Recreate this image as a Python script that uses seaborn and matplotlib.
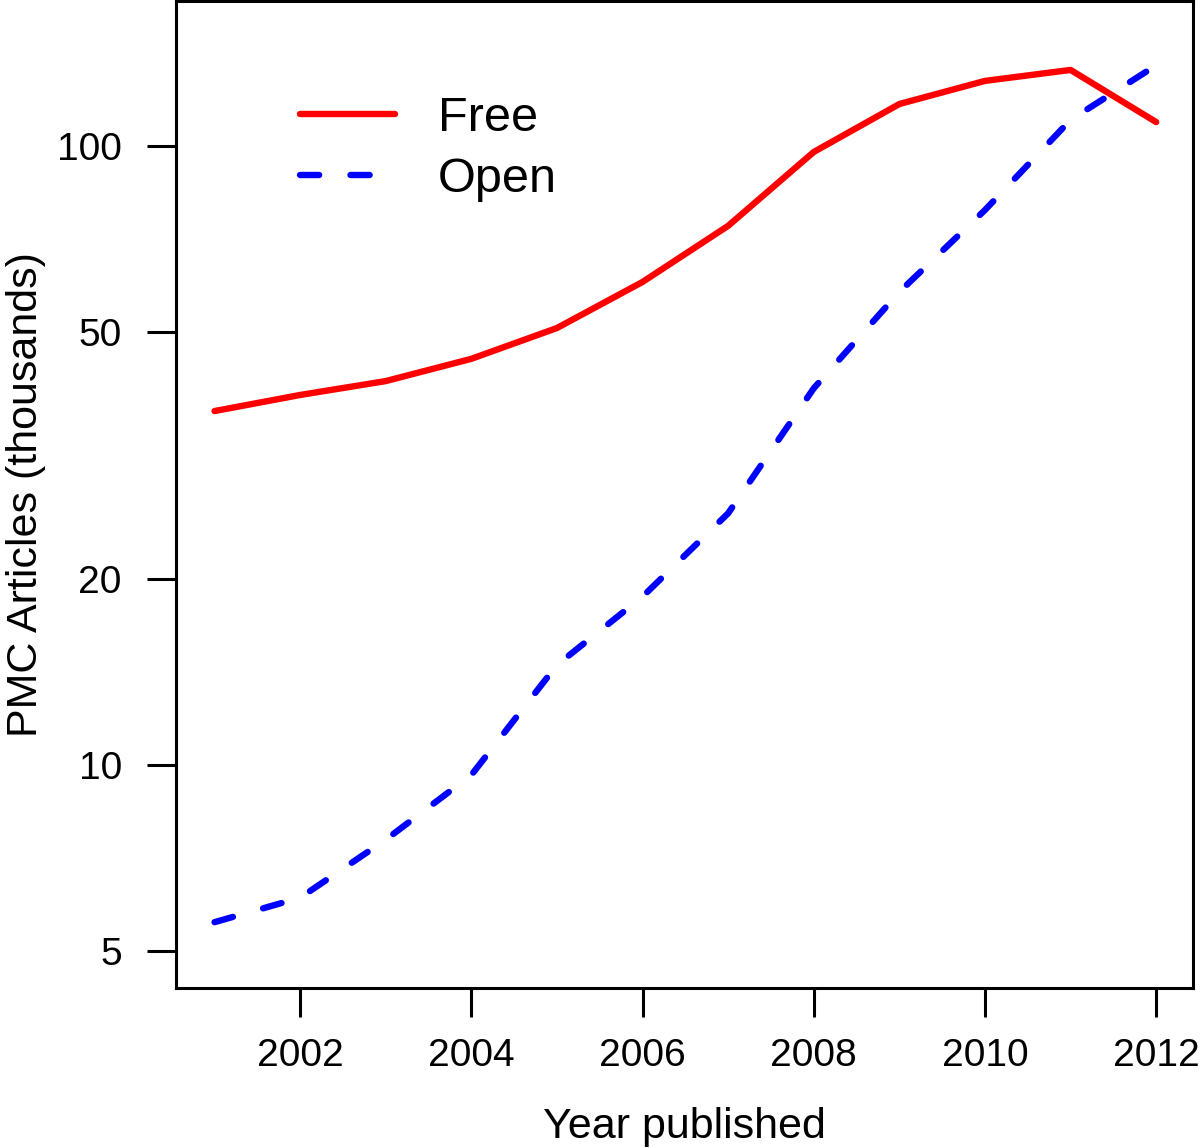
import matplotlib
matplotlib.use("Agg")
import matplotlib.pyplot as plt
import matplotlib.ticker as mticker
import seaborn as sns
import pandas as pd

# data (thousands of PMC articles)
years = [2001, 2002, 2003, 2004, 2005, 2006, 2007, 2008, 2009, 2010, 2011, 2012]
free = [37.3, 39.6, 41.7, 45.3, 50.8, 60.3, 74.3, 97.8, 116.9, 127.4, 132.7, 109.3]
open_ = [5.57, 6.10, 7.57, 9.63, 14.5, 18.7, 25.5, 40.6, 58.1, 78.8, 110.2, 135.0]

x_ticks = [2002, 2004, 2006, 2008, 2010, 2012]
y_ticks = [5, 10, 20, 50, 100]

df = pd.DataFrame({"year": years, "Free": free, "Open": open_})

sns.set_style("ticks")
plt.rcParams["font.family"] = ["Liberation Sans", "DejaVu Sans"]
plt.rcParams.update({"text.color": "black", "axes.labelcolor": "black",
                     "xtick.color": "black", "ytick.color": "black"})

fig = plt.figure(figsize=(12, 11.48), dpi=100)
ax = fig.add_axes([176 / 1200, 1 - 988 / 1148, (1193 - 176) / 1200, 987 / 1148])

sns.lineplot(data=df, x="year", y="Free", color="red", lw=4.6, ax=ax,
             label="Free", solid_capstyle="round")
sns.lineplot(data=df, x="year", y="Open", color="blue", lw=4.6, ax=ax,
             label="Open", linestyle=(0, (3.0, 4.9)), dash_capstyle="round")

ax.set_yscale("log")
ax.set_xlim(2000.55, 2012.43)
ax.set_ylim(4.36, 171.5)

ax.yaxis.set_major_locator(mticker.FixedLocator(y_ticks))
ax.yaxis.set_major_formatter(mticker.FixedFormatter([str(v) for v in y_ticks]))
ax.yaxis.set_minor_locator(mticker.NullLocator())
ax.set_xticks(x_ticks)
ax.set_xticklabels([str(v) for v in x_ticks])

ax.tick_params(axis="both", length=21, width=2.2, labelsize=28,
               color="black", labelcolor="black")
ax.tick_params(axis="x", pad=15)
ax.tick_params(axis="y", pad=18)
for s in ax.spines.values():
    s.set_visible(True)
    s.set_linewidth(2.2)
    s.set_color("black")

ax.set_xlabel("Year published", fontsize=31, labelpad=24)
ax.set_ylabel("PMC Articles (thousands)", fontsize=31, labelpad=8)

ax.legend(loc="center left", bbox_to_anchor=(0.122, 0.850), frameon=False,
          fontsize=35, handlelength=1.95, handletextpad=0.88, labelspacing=0.32,
          borderpad=0, borderaxespad=0)

fig.savefig("out.png", dpi=100, facecolor="white")
